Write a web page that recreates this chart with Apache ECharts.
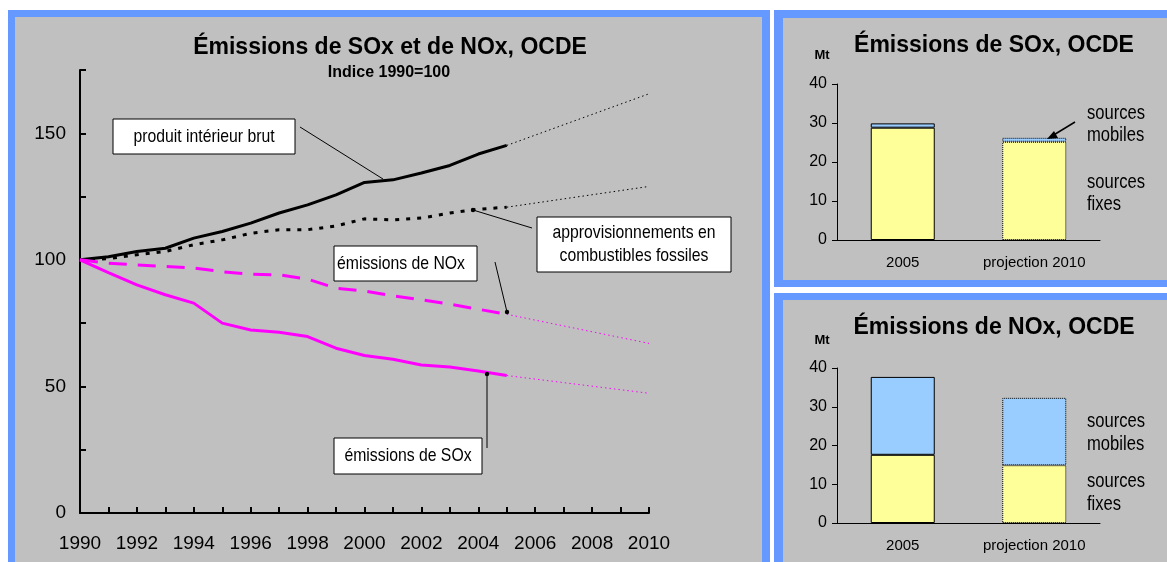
<!DOCTYPE html>
<html>
<head>
<meta charset="utf-8">
<script src="https://cdn.jsdelivr.net/npm/echarts@6/dist/echarts.min.js"></script>
<style>
html,body{margin:0;padding:0;background:#ffffff;}
#c{width:1167px;height:562px;}
</style>
</head>
<body>
<div id="c"></div>
<script>
// ---- data ----
const years = ['1990','1991','1992','1993','1994','1995','1996','1997','1998','1999','2000','2001','2002','2003','2004','2005','2006','2007','2008','2009','2010'];
const gdp  = [100,101.2,103.3,104.6,108.6,111.2,114.5,118.5,121.7,125.7,130.6,131.6,134.3,137.3,141.8,145.2];
const fuel = [100,100.5,102,103.3,106,107.9,110.5,111.9,111.9,113.4,116.2,115.8,116.5,118.5,120,120.8];
const nox  = [100,98.7,98,97.4,96.8,95.3,94.3,94.1,92.4,88.8,87.7,85.8,84.2,82.5,80.5,78.5];
const sox  = [100,95,90.1,86.2,82.9,75,72.3,71.4,69.7,65.1,62.2,60.7,58.5,57.7,56.1,54.3];
const proj2010 = {gdp:165.6, fuel:129, nox:67, sox:47.3};

const barCats = ['2005','projection 2010'];
const soxFixed  = [28.8, 25.2];
const soxMobile = [1.1, 1.0];
const noxFixed  = [17.6, 14.9];
const noxMobile = [20.1, 17.4];

// ---- helpers ----
const FONT = "'Liberation Sans', Arial, sans-serif";
const BLUE = '#6699ff', GREY = '#c0c0c0', MAG = '#ff00ff';
const YELLOW = '#ffff99', LBLUE = '#99ccff';

function projection(arr, endVal){
  const last = arr.length - 1;
  return years.map((y,i)=> i===last ? arr[last] : (i===years.length-1 ? endVal : null));
}
function barData(arr){
  return arr.map((v,i)=>({value:v, itemStyle:{borderType: i===0 ? 'solid' : 'dotted'}}));
}

const chart = echarts.init(document.getElementById('c'), null, {renderer:'canvas'});

function txt(x,y,text,opts){
  return {type:'text', x:x, y:y, z:110,
    style:Object.assign({text:text, fill:'#000', font:'bold 16px '+FONT, textAlign:'center', textVerticalAlign:'middle'}, opts||{})};
}
// condensed (narrow-looking) text
function ntxt(x,y,text,size,align){
  return {type:'text', x:x, y:y, z:110, scaleX:0.83, scaleY:1,
    style:{text:text, fill:'#000', font:(size||19)+'px '+FONT, textAlign:align||'center', textVerticalAlign:'middle'}};
}
function box(x,y,w,h){
  return {type:'rect', z:105, shape:{x:x,y:y,width:w,height:h}, style:{fill:'#fff', stroke:'#000', lineWidth:1}};
}
function seg(x1,y1,x2,y2){
  return {type:'line', z:106, shape:{x1:x1,y1:y1,x2:x2,y2:y2}, style:{stroke:'#000', lineWidth:1}};
}
function dot(x,y){
  return {type:'circle', z:107, shape:{cx:x,cy:y,r:2.2}, style:{fill:'#000'}};
}

const graphics = [
  // panels
  {type:'rect', z:-100, shape:{x:8,y:10,width:762,height:570}, style:{fill:BLUE}},
  {type:'rect', z:-99, shape:{x:15,y:17,width:747,height:560}, style:{fill:GREY}},
  {type:'rect', z:-100, shape:{x:774,y:10,width:410,height:277}, style:{fill:BLUE}},
  {type:'rect', z:-99, shape:{x:783,y:18,width:400,height:262}, style:{fill:GREY}},
  {type:'rect', z:-100, shape:{x:774,y:293,width:410,height:290}, style:{fill:BLUE}},
  {type:'rect', z:-99, shape:{x:783,y:300,width:400,height:290}, style:{fill:GREY}},
  // titles
  txt(390,48,'Émissions de SOx et de NOx, OCDE',{font:'bold 23px '+FONT}),
  txt(389,73,'Indice 1990=100',{font:'bold 16px '+FONT}),
  txt(994,46,'Émissions de SOx, OCDE',{font:'bold 23px '+FONT}),
  txt(994,328,'Émissions de NOx, OCDE',{font:'bold 23px '+FONT}),
  txt(822,55,'Mt',{font:'bold 13px '+FONT}),
  txt(822,340,'Mt',{font:'bold 13px '+FONT}),
  // left annotations
  seg(300,127,383,179),
  box(113,119,182,35), ntxt(204,137,'produit intérieur brut'),
  seg(532,228,473,210), dot(473,210),
  box(537,217,194,55), ntxt(634,233,'approvisionnements en'), ntxt(634,256,'combustibles fossiles'),
  seg(495,262,507,312), dot(507,312),
  box(334,246,143,35), ntxt(337,264,'émissions de NOx',19,'left'),
  seg(487,448,487,374), dot(487,374),
  box(334,438,148,36), ntxt(408,456,'émissions de SOx'),
  // right labels
  ntxt(1087,113,'sources',20,'left'),
  ntxt(1087,135,'mobiles',20,'left'),
  ntxt(1087,182,'sources',20,'left'),
  ntxt(1087,204,'fixes',20,'left'),
  ntxt(1087,421,'sources',20,'left'),
  ntxt(1087,444,'mobiles',20,'left'),
  ntxt(1087,481,'sources',20,'left'),
  ntxt(1087,504,'fixes',20,'left'),
  // arrow to mobile sources
  {type:'line', z:106, shape:{x1:1075,y1:122,x2:1052,y2:136}, style:{stroke:'#000', lineWidth:1.5}},
  {type:'polygon', z:107, shape:{points:[[1047,139],[1054,131],[1058,138]]}, style:{fill:'#000'}}
];

const lineAxisStyle = {lineStyle:{color:'#000', width:2}};
const barAxisLine = {lineStyle:{color:'#000', width:1}};

const option = {
  animation:false,
  textStyle:{fontFamily:FONT},
  graphic:{elements:graphics},
  grid:[
    {left:80, top:70, width:569, height:443},
    {left:837, top:84, width:263, height:156},
    {left:837, top:368, width:263, height:155}
  ],
  xAxis:[
    {gridIndex:0, type:'category', data:years, boundaryGap:false,
     axisLine:lineAxisStyle,
     axisTick:{inside:true, length:6, interval:0, lineStyle:{color:'#000', width:2}},
     axisLabel:{interval:1, color:'#000', fontSize:19, fontFamily:FONT, margin:21},
     splitLine:{show:false}},
    {gridIndex:1, type:'category', data:barCats,
     axisLine:barAxisLine, axisTick:{length:6, lineStyle:{color:'#000'}},
     axisLabel:{interval:0, color:'#000', fontSize:15, fontFamily:FONT, margin:15}},
    {gridIndex:2, type:'category', data:barCats,
     axisLine:barAxisLine, axisTick:{length:6, lineStyle:{color:'#000'}},
     axisLabel:{interval:0, color:'#000', fontSize:15, fontFamily:FONT, margin:15}}
  ],
  yAxis:[
    {gridIndex:0, type:'value', min:0, max:175, interval:25,
     axisLine:Object.assign({show:true}, lineAxisStyle),
     axisTick:{show:true, inside:true, length:6, lineStyle:{color:'#000', width:2}},
     axisLabel:{color:'#000', fontSize:19, fontFamily:FONT, margin:14,
       formatter:v=> (v%50===0 ? String(v) : '')},
     splitLine:{show:false}},
    {gridIndex:1, type:'value', min:0, max:40, interval:10,
     axisLine:Object.assign({show:true}, barAxisLine),
     axisTick:{show:true, length:5, lineStyle:{color:'#000'}},
     axisLabel:{color:'#000', fontSize:16, fontFamily:FONT, margin:10},
     splitLine:{show:false}},
    {gridIndex:2, type:'value', min:0, max:40, interval:10,
     axisLine:Object.assign({show:true}, barAxisLine),
     axisTick:{show:true, length:5, lineStyle:{color:'#000'}},
     axisLabel:{color:'#000', fontSize:16, fontFamily:FONT, margin:10},
     splitLine:{show:false}}
  ],
  series:[
    {name:'PIB proj', type:'line', xAxisIndex:0, yAxisIndex:0, data:projection(gdp, proj2010.gdp), connectNulls:true,
     symbol:'none', lineStyle:{color:'#000', width:1, type:[1.5,3]}},
    {name:'Fuel proj', type:'line', xAxisIndex:0, yAxisIndex:0, data:projection(fuel, proj2010.fuel), connectNulls:true,
     symbol:'none', lineStyle:{color:'#000', width:1, type:[1.5,3]}},
    {name:'NOx proj', type:'line', xAxisIndex:0, yAxisIndex:0, data:projection(nox, proj2010.nox), connectNulls:true,
     symbol:'none', lineStyle:{color:MAG, width:1, type:[1.5,3]}},
    {name:'SOx proj', type:'line', xAxisIndex:0, yAxisIndex:0, data:projection(sox, proj2010.sox), connectNulls:true,
     symbol:'none', lineStyle:{color:MAG, width:1, type:[1.5,3]}},
    {name:'produit intérieur brut', type:'line', xAxisIndex:0, yAxisIndex:0, data:gdp,
     symbol:'none', lineStyle:{color:'#000', width:3}},
    {name:'approvisionnements en combustibles fossiles', type:'line', xAxisIndex:0, yAxisIndex:0, data:fuel,
     symbol:'none', lineStyle:{color:'#000', width:3, type:[4,7]}},
    {name:'émissions de NOx', type:'line', xAxisIndex:0, yAxisIndex:0, data:nox,
     symbol:'none', lineStyle:{color:MAG, width:3, type:[18,11]}},
    {name:'émissions de SOx', type:'line', xAxisIndex:0, yAxisIndex:0, data:sox,
     symbol:'none', lineStyle:{color:MAG, width:3}},

    {name:'SOx fixes', type:'bar', xAxisIndex:1, yAxisIndex:1, stack:'s', barWidth:64, data:barData(soxFixed),
     itemStyle:{color:YELLOW, borderColor:'#000', borderWidth:1}},
    {name:'SOx mobiles', type:'bar', xAxisIndex:1, yAxisIndex:1, stack:'s', barWidth:64, data:barData(soxMobile),
     itemStyle:{color:LBLUE, borderColor:'#000', borderWidth:1}},
    {name:'NOx fixes', type:'bar', xAxisIndex:2, yAxisIndex:2, stack:'n', barWidth:64, data:barData(noxFixed),
     itemStyle:{color:YELLOW, borderColor:'#000', borderWidth:1}},
    {name:'NOx mobiles', type:'bar', xAxisIndex:2, yAxisIndex:2, stack:'n', barWidth:64, data:barData(noxMobile),
     itemStyle:{color:LBLUE, borderColor:'#000', borderWidth:1}}
  ]
};
chart.setOption(option);
</script>
</body>
</html>
